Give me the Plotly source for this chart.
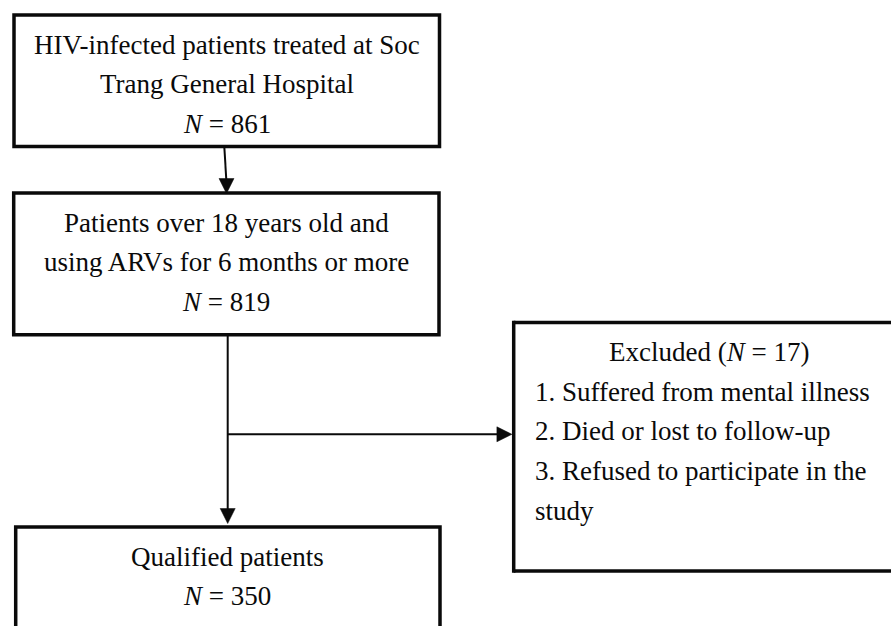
import plotly.graph_objects as go

# ---- data (flowchart content) ----
stage_titles = [
    ["HIV-infected patients treated at Soc", "Trang General Hospital"],
    ["Patients over 18 years old and", "using ARVs for 6 months or more"],
    ["Qualified patients"],
]
stage_counts = [861, 819, 350]
excluded_count = 17
excluded_reasons = [
    "1. Suffered from mental illness",
    "2. Died or lost to follow-up",
    "3. Refused to participate in the",
    "study",
]

# ---- layout constants ----
W, H = 891, 626
FONT = "Liberation Serif, Times New Roman, serif"
FS = 27
BORDER = 3.5
LINE = 2
BLACK = "#0a0a0a"

# boxes: (x0, y0, x1, y1) in pixel-like data coords (y downward)
box_main = [(14, 15, 439.5, 146.5), (13.7, 193, 439, 334.7), (15.7, 527, 440, 660)]
box_excl = (513.7, 322.5, 1200, 571)
# baselines of text lines
base_main = [[55, 94, 134], [233, 272, 312], [567, 606]]
base_excl = [362, 402, 441, 481, 521]

shapes = []
annotations = []

def rect(b):
    shapes.append(dict(type="rect", xref="x", yref="y", x0=b[0], y0=b[1], x1=b[2], y1=b[3],
                       line=dict(color=BLACK, width=BORDER), fillcolor="rgba(0,0,0,0)"))

def line(x0, y0, x1, y1, width=LINE):
    shapes.append(dict(type="line", xref="x", yref="y", x0=x0, y0=y0, x1=x1, y1=y1,
                       line=dict(color=BLACK, width=width)))

def open_box(b):
    # right side runs off the page: top, left and bottom edges only
    line(b[0], b[1], b[2], b[1], BORDER)
    line(b[0], b[3], b[2], b[3], BORDER)
    line(b[0], b[1] - BORDER / 2, b[0], b[3] + BORDER / 2, BORDER)

def head(x, y, direction, size=15, half=7.5):
    if direction == "down":
        p = f"M {x} {y} L {x-half} {y-size} L {x+half} {y-size} Z"
    else:
        p = f"M {x} {y} L {x-size} {y-half} L {x-size} {y+half} Z"
    shapes.append(dict(type="path", xref="x", yref="y", path=p,
                       fillcolor=BLACK, line=dict(color=BLACK, width=0.5)))

def text(x, baseline, s, xanchor="center"):
    annotations.append(dict(x=x, y=baseline - 0.36 * FS, xref="x", yref="y", text=s,
                            showarrow=False, xanchor=xanchor, yanchor="middle",
                            font=dict(family=FONT, size=FS, color=BLACK)))

for b in box_main:
    rect(b)
open_box(box_excl)

# arrows
line(224.3, box_main[0][3], 226.5, box_main[1][1] - 10)
head(226.5, box_main[1][1] + 0.5, "down")
ax2 = 227.7
line(ax2, box_main[1][3], ax2, box_main[2][1] - 10)
head(ax2, box_main[2][1] - 3.5, "down")
ybr = 434.3
line(ax2, ybr, box_excl[0] - 10, ybr)
head(box_excl[0] - 1.8, ybr, "right")

# main box texts
for i, b in enumerate(box_main):
    cx = (b[0] + b[2]) / 2 if i < 2 else (14 + 440) / 2
    lines = stage_titles[i] + [f"<i>N</i> = {stage_counts[i]}"]
    for s, bl in zip(lines, base_main[i]):
        text(cx, bl, s)

# excluded box texts
text(709, base_excl[0], f"Excluded (<i>N</i> = {excluded_count})")
for s, bl in zip(excluded_reasons, base_excl[1:]):
    text(533, bl, s, xanchor="left")

fig = go.Figure()
fig.update_layout(
    width=W, height=H, margin=dict(l=0, r=0, t=0, b=0),
    paper_bgcolor="white", plot_bgcolor="white",
    xaxis=dict(range=[0, W], visible=False, fixedrange=True),
    yaxis=dict(range=[H, 0], visible=False, fixedrange=True),
    shapes=shapes, annotations=annotations, showlegend=False,
)
fig.write_html(
    "out.html",
    config={"displayModeBar": False},
    post_script="document.body.style.margin='0';document.body.style.overflow='hidden';"
                "document.documentElement.style.overflow='hidden';",
)
